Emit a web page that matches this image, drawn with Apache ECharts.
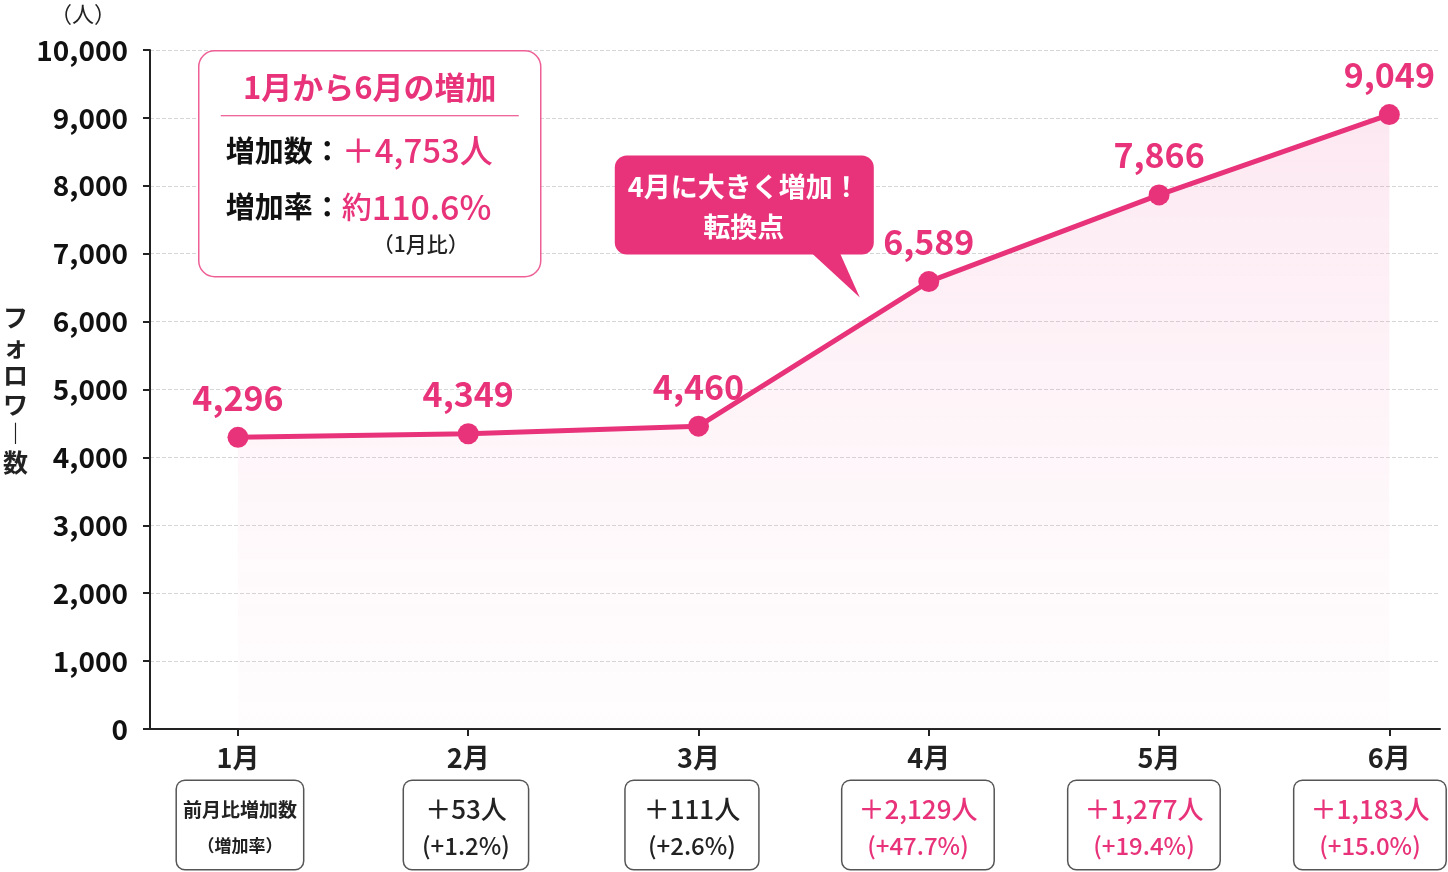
<!DOCTYPE html>
<html>
<head>
<meta charset="utf-8">
<script src="https://cdn.jsdelivr.net/npm/echarts@6/dist/echarts.min.js"></script>
</head>
<body style="margin: 0; background: #fff">
<div id="container" style="width: 1448px; height: 872px"></div>
<script>
var months = ['1月', '2月', '3月', '4月', '5月', '6月'];
var followers = [4296, 4349, 4460, 6589, 7866, 9049];
var diffCount = ['前月比増加数', '＋53人', '＋111人', '＋2,129人', '＋1,277人', '＋1,183人'];
var diffRate = ['（増加率）', '(+1.2%)', '(+2.6%)', '(+47.7%)', '(+19.4%)', '(+15.0%)'];
var highlightFrom = 3; // 4月以降はピンク表示

var PINK = '#E8337A';
var FONT = '"Noto Sans CJK JP", "Noto Sans", sans-serif';

var chart = echarts.init(document.getElementById('container'));

function fmt(v) {
    return Number(v).toLocaleString('en-US');
}

chart.setOption({
    animation: false,
    textStyle: { fontFamily: FONT },
    title: {
        text: '（人）',
        left: 45,
        top: -2,
        textStyle: { fontSize: 22, fontWeight: 'normal', color: '#222', fontFamily: FONT }
    },
    grid: { left: 150, right: 8, top: 50, bottom: 143, outerBoundsMode: 'none', containLabel: false },
    xAxis: [{
        type: 'value',
        min: -0.382,
        max: 5.22,
        splitLine: { show: false },
        axisLine: { onZero: false, lineStyle: { color: '#222', width: 2 } },
        axisTick: { length: 7, lineStyle: { color: '#222', width: 2 } },
        axisLabel: {
            showMinLabel: false,
            showMaxLabel: false,
            margin: 15,
            fontSize: 27,
            fontWeight: 'bold',
            color: '#222',
            formatter: function (v) { return months[v] || ''; }
        }
    }, {
        // 前月比の枠だけを並べる軸
        type: 'value',
        min: -0.398,
        max: 5.31,
        position: 'bottom',
        offset: 44,
        splitLine: { show: false },
        axisLine: { show: false, onZero: false },
        axisTick: { show: false },
        axisLabel: {
            showMinLabel: false,
            showMaxLabel: false,
            margin: 8,
            backgroundColor: '#fff',
            borderColor: '#555',
            borderWidth: 1.5,
            borderRadius: 8,
            padding: [10, 6, 6, 6],
            formatter: function (v) {
                if (diffCount[v] == null) return '';
                if (v === 0) return '{h1|' + diffCount[v] + '}\n{h2|' + diffRate[v] + '}';
                var k = v >= highlightFrom ? 'p' : 'b';
                return '{' + k + '1|' + diffCount[v] + '}\n{' + k + '2|' + diffRate[v] + '}';
            },
            rich: {
                h1: { fontSize: 19, fontWeight: 'bold', color: '#222', lineHeight: 37 },
                h2: { fontSize: 17, fontWeight: 'bold', color: '#222', lineHeight: 35 },
                b1: { fontSize: 26, fontWeight: 500, color: '#222', lineHeight: 37, padding: [0, 12] },
                b2: { fontSize: 24, fontWeight: 500, color: '#222', lineHeight: 35, padding: [0, 12] },
                p1: { fontSize: 26, fontWeight: 500, color: PINK, lineHeight: 37, padding: [0, 10] },
                p2: { fontSize: 24, fontWeight: 500, color: PINK, lineHeight: 35, padding: [0, 10] }
            }
        }
    }],
    yAxis: {
        type: 'value',
        min: 0,
        max: 10000,
        interval: 1000,
        name: 'フ\nォ\nロ\nワ\n︱\n数',
        nameLocation: 'middle',
        nameRotate: 0,
        nameGap: 122,
        nameTextStyle: { fontSize: 25, lineHeight: 29, fontWeight: 'bold', color: '#222', padding: [0, 0, 36, 0] },
        axisLine: { show: true, onZero: false, lineStyle: { color: '#222', width: 2 } },
        axisTick: { show: true, length: 7, lineStyle: { color: '#222', width: 2 } },
        axisLabel: { fontSize: 28, color: '#111', margin: 22, fontWeight: 'bold', formatter: fmt },
        splitLine: { lineStyle: { type: 'dashed', color: '#d6d6d6', width: 1 } }
    },
    series: [{
        type: 'line',
        data: followers.map(function (v, i) { return [i, v]; }),
        symbol: 'circle',
        symbolSize: 21,
        lineStyle: { color: PINK, width: 5 },
        itemStyle: { color: PINK },
        areaStyle: {
            color: new echarts.graphic.LinearGradient(0, 0, 0, 1, [
                { offset: 0, color: 'rgba(236, 70, 140, 0.18)' },
                { offset: 1, color: 'rgba(250, 200, 225, 0.06)' }
            ])
        },
        label: {
            show: true,
            position: 'top',
            distance: 12,
            fontSize: 34,
            fontWeight: 'bold',
            color: PINK,
            formatter: function (p) { return fmt(p.value[1]); }
        }
    }]
});

// 吹き出し位置は4月の点を基準にする
var p4 = chart.convertToPixel({ gridIndex: 0 }, [3, followers[3]]);
var bx = p4[0] - 314, by = p4[1] - 126;

chart.setOption({
    graphic: [{
        type: 'group',
        left: 198,
        top: 50,
        children: [{
            type: 'rect',
            shape: { x: 0, y: 0, width: 342, height: 226, r: 16 },
            style: { fill: '#fff', stroke: '#EE5F96', lineWidth: 1.5 }
        }, {
            type: 'text',
            x: 171, y: 36,
            style: {
                text: '1月から6月の増加', align: 'center', verticalAlign: 'middle',
                fontSize: 31, fontWeight: 'bold', fill: PINK, fontFamily: FONT
            }
        }, {
            type: 'line',
            shape: { x1: 22, y1: 65, x2: 320, y2: 65 },
            style: { stroke: PINK, lineWidth: 1.2 }
        }, {
            type: 'text',
            x: 27, y: 100,
            style: {
                text: '{k|増加数：}{v|＋4,753人}', verticalAlign: 'middle', fontFamily: FONT,
                rich: {
                    k: { fontSize: 29, fontWeight: 'bold', fill: '#111', fontFamily: FONT },
                    v: { fontSize: 33, fontWeight: 500, fill: PINK, fontFamily: FONT }
                }
            }
        }, {
            type: 'text',
            x: 27, y: 156,
            style: {
                text: '{k|増加率：}{s|約}{v|110.6%}', verticalAlign: 'middle', fontFamily: FONT,
                rich: {
                    k: { fontSize: 29, fontWeight: 'bold', fill: '#111', fontFamily: FONT },
                    s: { fontSize: 30, fontWeight: 500, fill: PINK, fontFamily: FONT },
                    v: { fontSize: 34, fontWeight: 500, fill: PINK, fontFamily: FONT }
                }
            }
        }, {
            type: 'text',
            x: 222, y: 193,
            style: {
                text: '（1月比）', align: 'center', verticalAlign: 'middle',
                fontSize: 21, fontWeight: 500, fill: '#222', fontFamily: FONT
            }
        }]
    }, {
        type: 'group',
        x: bx,
        y: by,
        z: 100,
        children: [{
            type: 'polygon',
            shape: { points: [[194, 95], [224, 95], [245, 142]] },
            style: { fill: PINK }
        }, {
            type: 'rect',
            shape: { x: 0, y: 0, width: 259, height: 99, r: 12 },
            style: { fill: PINK }
        }, {
            type: 'text',
            x: 129, y: 51,
            style: {
                text: '4月に大きく増加！\n転換点', align: 'center', verticalAlign: 'middle',
                fontSize: 27, fontWeight: 'bold', lineHeight: 40, fill: '#fff', fontFamily: FONT
            }
        }]
    }]
});
</script>
</body>
</html>
